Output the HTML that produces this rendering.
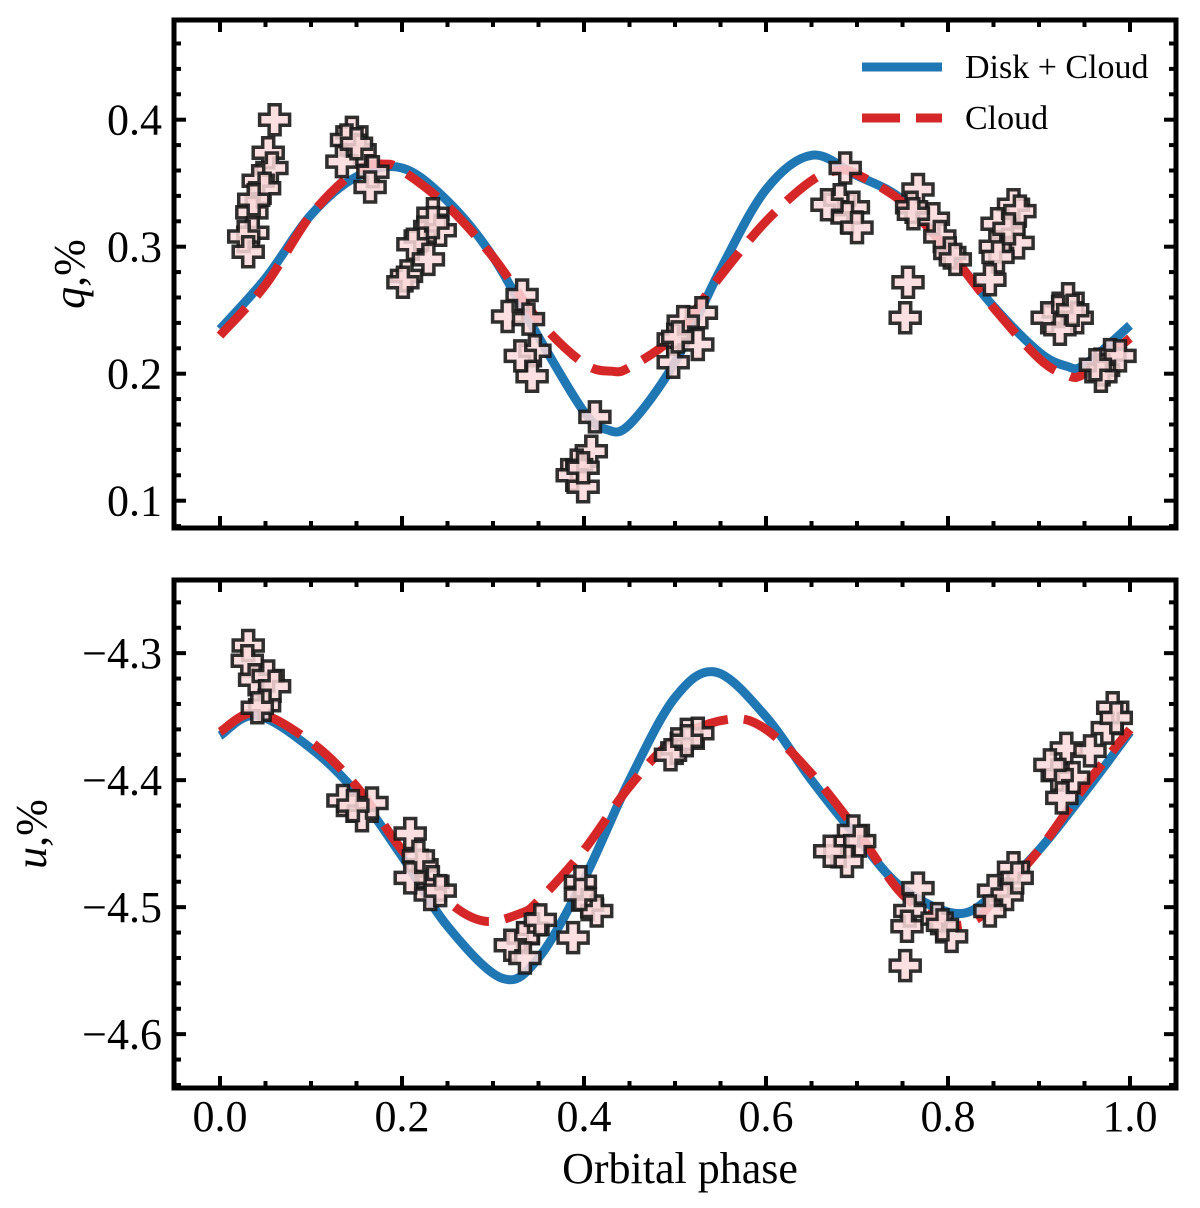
<!DOCTYPE html>
<html><head><meta charset="utf-8"><style>
html,body{margin:0;padding:0;background:#fff}
svg text{font-family:"Liberation Serif",serif;fill:#000}
</style></head><body>
<svg id="chart" width="1200" height="1203" viewBox="0 0 1200 1203" xmlns="http://www.w3.org/2000/svg"></svg>
<script>
// ---- data ----
const curvePhase = [0.00,0.05,0.10,0.15,0.20,0.25,0.30,0.35,0.40,0.425,0.45,0.50,0.55,0.60,0.65,0.70,0.75,0.80,0.85,0.90,0.93,0.95,1.00];
const qDiskCloud = [0.235,0.275,0.325,0.355,0.362,0.336,0.292,0.229,0.170,0.156,0.160,0.209,0.282,0.345,0.372,0.356,0.337,0.297,0.253,0.217,0.206,0.207,0.238];
const qCloudPhase = [0.00,0.05,0.10,0.15,0.18,0.20,0.25,0.30,0.35,0.40,0.43,0.45,0.50,0.55,0.60,0.65,0.68,0.70,0.75,0.80,0.85,0.90,0.93,0.95,1.00];
const qCloud = [0.230,0.270,0.325,0.360,0.365,0.360,0.332,0.292,0.242,0.208,0.202,0.205,0.230,0.277,0.320,0.352,0.360,0.357,0.335,0.297,0.252,0.212,0.199,0.200,0.228];
const uDiskPhase = [0.00,0.04,0.10,0.15,0.20,0.25,0.31,0.35,0.40,0.45,0.50,0.545,0.60,0.65,0.70,0.75,0.81,0.85,0.90,0.95,1.00];
const uDiskCloud = [-4.365,-4.349,-4.375,-4.410,-4.460,-4.515,-4.556,-4.540,-4.478,-4.400,-4.335,-4.315,-4.350,-4.400,-4.445,-4.485,-4.505,-4.490,-4.455,-4.410,-4.362];
const uCloudPhase = [0.00,0.04,0.10,0.15,0.20,0.25,0.29,0.33,0.35,0.40,0.45,0.50,0.56,0.60,0.65,0.70,0.75,0.80,0.83,0.85,0.90,0.95,1.00];
const uCloud = [-4.362,-4.347,-4.370,-4.405,-4.455,-4.495,-4.511,-4.505,-4.495,-4.455,-4.405,-4.368,-4.352,-4.360,-4.395,-4.440,-4.490,-4.513,-4.510,-4.495,-4.455,-4.405,-4.360];

const qObsPhase = [0.060,0.053,0.057,0.042,0.049,0.035,0.036,0.026,0.031,0.037,
 0.145,0.139,0.154,0.134,0.168,0.165,0.150,
 0.234,0.242,0.220,0.212,0.229,0.205,0.201,0.234,
 0.332,0.316,0.339,0.346,0.343,0.330,
 0.412,0.408,0.392,0.387,0.399,0.399,
 0.529,0.509,0.498,0.525,0.498,0.503,
 0.687,0.681,0.696,0.689,0.700,0.667,
 0.767,0.760,0.784,0.791,0.802,0.808,0.762,
 0.756,0.753,
 0.872,0.879,0.854,0.877,0.852,0.855,0.846,0.867,
 0.932,0.921,0.942,0.909,0.923,0.937,
 0.978,0.971,0.989,0.968,0.962];
const qObs = [0.400,0.374,0.362,0.352,0.346,0.327,0.311,0.308,0.296,0.337,
 0.390,0.384,0.376,0.367,0.359,0.347,0.381,
 0.326,0.313,0.308,0.302,0.290,0.277,0.272,0.319,
 0.262,0.245,0.243,0.218,0.198,0.214,
 0.166,0.139,0.128,0.120,0.111,0.126,
 0.248,0.241,0.227,0.223,0.209,0.229,
 0.362,0.337,0.331,0.323,0.315,0.333,
 0.345,0.331,0.322,0.308,0.295,0.290,0.326,
 0.272,0.244,
 0.333,0.328,0.318,0.303,0.300,0.292,0.274,0.314,
 0.259,0.249,0.244,0.244,0.235,0.250,
 0.215,0.203,0.214,0.198,0.207];

const uObsPhase = [0.031,0.030,0.038,0.053,0.060,0.049,0.041,
 0.135,0.156,0.167,0.146,
 0.209,0.222,0.218,0.234,0.231,0.242,0.209,
 0.344,0.333,0.319,0.335,0.352,
 0.396,0.404,0.414,0.388,0.396,
 0.502,0.513,0.495,0.525,0.513,
 0.696,0.681,0.703,0.689,0.670,
 0.767,0.758,0.755,0.753,0.788,0.804,0.794,
 0.872,0.850,0.865,0.846,0.876,
 0.930,0.938,0.920,0.925,0.912,
 0.981,0.975,0.956,0.985];
const uObs = [-4.294,-4.306,-4.321,-4.318,-4.326,-4.341,-4.343,
 -4.416,-4.428,-4.418,-4.420,
 -4.442,-4.467,-4.460,-4.480,-4.490,-4.487,-4.477,
 -4.517,-4.524,-4.530,-4.540,-4.510,
 -4.480,-4.498,-4.503,-4.524,-4.490,
 -4.375,-4.364,-4.380,-4.363,-4.369,
 -4.440,-4.456,-4.448,-4.464,-4.456,
 -4.485,-4.503,-4.515,-4.546,-4.509,-4.523,-4.514,
 -4.469,-4.487,-4.490,-4.503,-4.477,
 -4.375,-4.398,-4.396,-4.414,-4.388,
 -4.343,-4.359,-4.377,-4.351];

const xTicks = [0.0,0.2,0.4,0.6,0.8,1.0];
const xTickLabels = ["0.0","0.2","0.4","0.6","0.8","1.0"];
const qTicks = [0.1,0.2,0.3,0.4];
const qTickLabels = ["0.1","0.2","0.3","0.4"];
const uTicks = [-4.6,-4.5,-4.4,-4.3];
const uTickLabels = ["\u22124.6","\u22124.5","\u22124.4","\u22124.3"];

// ---- layout ----
const NS="http://www.w3.org/2000/svg";
const svg=document.getElementById('chart');
const L=174,R=1176;
const top1={t:20,b:528,min:0.0785,max:0.4785};
const top2={t:580,b:1088,min:-4.6424,max:-4.2424};
const X=v=>220+v*910;
const Yf=p=>v=>p.b-(v-p.min)/(p.max-p.min)*(p.b-p.t);
const Yq=Yf(top1), Yu=Yf(top2);
const DASH='38 16';

function mk(tag,attrs,parent){const e=document.createElementNS(NS,tag);for(const k in attrs)e.setAttribute(k,attrs[k]);(parent||svg).appendChild(e);return e;}

function smoothPath(xs,ys,fx,fy){
  const P=xs.map((x,i)=>[fx(x),fy(ys[i])]);
  let d=`M${P[0][0].toFixed(1)},${P[0][1].toFixed(1)}`;
  for(let i=0;i<P.length-1;i++){
    const p0=P[Math.max(0,i-1)],p1=P[i],p2=P[i+1],p3=P[Math.min(P.length-1,i+2)];
    const c1=[p1[0]+(p2[0]-p0[0])/6,p1[1]+(p2[1]-p0[1])/6];
    const c2=[p2[0]-(p3[0]-p1[0])/6,p2[1]-(p3[1]-p1[1])/6];
    d+=` C${c1[0].toFixed(1)},${c1[1].toFixed(1)} ${c2[0].toFixed(1)},${c2[1].toFixed(1)} ${p2[0].toFixed(1)},${p2[1].toFixed(1)}`;
  }
  return d;
}
function plusPts(cx,cy){
  const a=15,b=5.5;
  return [[-b,-a],[b,-a],[b,-b],[a,-b],[a,b],[b,b],[b,a],[-b,a],[-b,b],[-a,b],[-a,-b],[-b,-b]].map(p=>(cx+p[0]).toFixed(1)+','+(cy+p[1]).toFixed(1)).join(' ');
}

function panel(p,Y,name,yMinorStep,yTicks,yLabels,yTitle,titleX,obsX,obsY,blueX,blueY,redX,redY){
  const g=mk('g',{});
  
  
  const blue=mk('path',{d:smoothPath(blueX,blueY,X,Y),fill:'none',stroke:'#1f77b4','stroke-width':9},g);
  
  
  const red=mk('path',{d:smoothPath(redX,redY,X,Y),fill:'none',stroke:'#d62728','stroke-width':9,'stroke-dasharray':DASH},g);
  
  
  const mg=mk('g',{},g);
  
  
  obsX.forEach((x,i)=>{
    const m=mk('polygon',{points:plusPts(X(x),Y(obsY[i])),fill:'#fbd9db',stroke:'#1a1a1a','stroke-width':3.5,'fill-opacity':0.85,'stroke-opacity':0.9,'stroke-linejoin':'miter'},mg);
    
    
  });
  const tg=mk('g',{stroke:'#000','stroke-width':4},g);
  for(let k=0;k<=20;k++){const v=k*0.05;const major=k%4===0;const len=major?12:7;const x=X(v);
    mk('line',{x1:x,x2:x,y1:p.b,y2:p.b-len},tg);mk('line',{x1:x,x2:x,y1:p.t,y2:p.t+len},tg);}
  const n0=Math.ceil(p.min/yMinorStep-1e-6),n1=Math.floor(p.max/yMinorStep+1e-6);
  for(let k=n0;k<=n1;k++){const v=k*yMinorStep;const major=Math.abs(Math.round(v*10)-v*10)<1e-6;const len=major?12:7;const y=Y(v);
    mk('line',{x1:L,x2:L+len,y1:y,y2:y},tg);mk('line',{x1:R,x2:R-len,y1:y,y2:y},tg);}
  yTicks.forEach((v,i)=>{const t=mk('text',{x:L-12,y:Y(v)+15,'text-anchor':'end','font-size':44},g);t.textContent=yLabels[i];
    });
  const fr=mk('rect',{x:L,y:p.t,width:R-L,height:p.b-p.t,fill:'none',stroke:'#000','stroke-width':5},g);
  
  
  const yt=mk('text',{x:0,y:0,'text-anchor':'middle','font-size':44,transform:`translate(${titleX},${(p.t+p.b)/2}) rotate(-90)`},g);
  yt.innerHTML=`<tspan font-style="italic">${yTitle}</tspan>,%`;
  
  
}
panel(top1,Yq,'q-panel',0.02,qTicks,qTickLabels,'q',84,qObsPhase,qObs,curvePhase,qDiskCloud,qCloudPhase,qCloud);
panel(top2,Yu,'u-panel',0.02,uTicks,uTickLabels,'u',46,uObsPhase,uObs,uDiskPhase,uDiskCloud,uCloudPhase,uCloud);

xTicks.forEach((v,i)=>{const t=mk('text',{x:X(v),y:1131,'text-anchor':'middle','font-size':44});t.textContent=xTickLabels[i];
  });
const xt=mk('text',{x:680,y:1183,'text-anchor':'middle','font-size':44});xt.textContent='Orbital phase';


const lg=mk('g',{});


const l1=mk('line',{x1:862,x2:942,y1:67,y2:67,stroke:'#1f77b4','stroke-width':9},lg);

const t1=mk('text',{x:965,y:78,'font-size':34},lg);t1.textContent='Disk + Cloud';

const l2=mk('line',{x1:862,x2:942,y1:118,y2:118,stroke:'#d62728','stroke-width':9,'stroke-dasharray':'38 16'},lg);

const t2=mk('text',{x:965,y:129,'font-size':34},lg);t2.textContent='Cloud';

</script>
</body></html>
